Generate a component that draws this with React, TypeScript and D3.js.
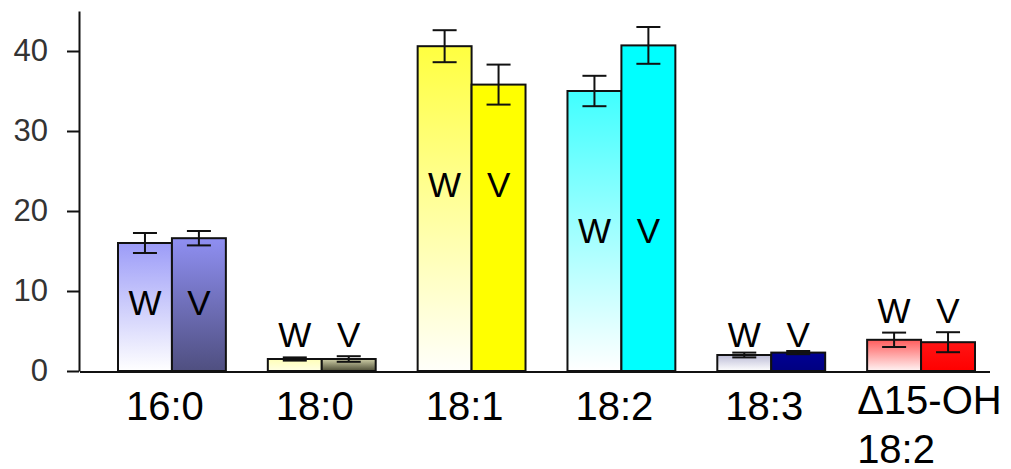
import React, { useRef, useEffect } from 'react';
import * as d3 from 'd3';

const categories = ['16:0', '18:0', '18:1', '18:2', '18:3', 'Δ15-OH\n18:2'];
const series = ['W', 'V'];
const wValues = [16.0, 1.5, 40.6, 35.0, 2.0, 3.9];
const wErrors = [1.25, 0.2, 2.0, 1.9, 0.3, 0.9];
const vValues = [16.6, 1.5, 35.8, 40.7, 2.3, 3.6];
const vErrors = [0.9, 0.35, 2.5, 2.3, 0.2, 1.25];
// where the W / V letters sit (value units, letter baseline)
const letterValues = [7.0, 3.0, 21.7, 16.0, 3.0, 6.0];
const yTicks = [0, 10, 20, 30, 40];

const wColors = [
  ['#9c9cf8', '#ffffff'],
  ['#ffffb8', '#ffffe4'],
  ['#ffff40', '#fffffa'],
  ['#40ffff', '#ffffff'],
  ['#bcbcd6', '#ffffff'],
  ['#ff5c5c', '#fff4f4'],
];
const vColors = [
  ['#8f8ff2', '#4f4f80'],
  ['#d0d0a8', '#4c4c36'],
  ['#ffff00', '#ffff00'],
  ['#00ffff', '#00ffff'],
  ['#000094', '#000080'],
  ['#ff1414', '#ff0000'],
];

function App() {
  const width = 1011;
  const height = 469;
  const axisRef = useRef<SVGGElement>(null);

  const x0 = d3.scaleBand().domain(categories).range([118, 975]).paddingInner(0.28).paddingOuter(0);
  const x1 = d3.scaleBand().domain(series).range([0, x0.bandwidth()]).padding(0);
  const y = d3.scaleLinear().domain([0, 45]).range([371, 11]);

  useEffect(() => {
    const g = d3.select(axisRef.current);
    g.selectAll('*').remove();
    g.call(d3.axisLeft(y).tickValues(yTicks).tickSize(12).tickSizeOuter(0).tickPadding(19));
    g.select('.domain').attr('stroke', '#111').attr('stroke-width', 2);
    g.selectAll('.tick line').attr('stroke', '#111').attr('stroke-width', 2);
    g.selectAll('.tick text')
      .attr('font-family', 'Liberation Sans, Arial, sans-serif')
      .attr('font-size', 31)
      .attr('fill', '#333');
  });

  const bars = categories.flatMap((c, i) => [
    { c, i, key: 'W', v: wValues[i], e: wErrors[i], col: wColors[i] },
    { c, i, key: 'V', v: vValues[i], e: vErrors[i], col: vColors[i] },
  ]);

  return (
    <svg width={width} height={height} style={{ position: 'fixed', left: 0, top: 0, background: '#fff' }}>
      <defs>
        {bars.map(b => (
          <linearGradient key={b.key + b.i} id={`g${b.key}${b.i}`} x1="0" y1="0" x2="0" y2="1">
            <stop offset="0" stopColor={b.col[0]} />
            <stop offset="1" stopColor={b.col[1]} />
          </linearGradient>
        ))}
      </defs>

      <g ref={axisRef} transform="translate(79,0)" />
      <line x1={80} x2={990} y1={y(0) + 1} y2={y(0) + 1} stroke="#111" strokeWidth={2} />

      {bars.map(b => {
        const bx = (x0(b.c) as number) + (x1(b.key) as number);
        const bw = x1.bandwidth();
        const cx = bx + bw / 2;
        return (
          <g key={'b' + b.key + b.i}>
            <rect x={bx} y={y(b.v)} width={bw} height={y(0) - y(b.v)}
              fill={`url(#g${b.key}${b.i})`} stroke="#111" strokeWidth={2} />
            <g stroke="#111" strokeWidth={2}>
              <line x1={cx} x2={cx} y1={y(b.v + b.e)} y2={y(b.v - b.e)} />
              <line x1={cx - 12} x2={cx + 12} y1={y(b.v + b.e)} y2={y(b.v + b.e)} />
              <line x1={cx - 12} x2={cx + 12} y1={y(b.v - b.e)} y2={y(b.v - b.e)} />
            </g>
            <text x={cx} y={y(letterValues[b.i])} textAnchor="middle"
              fontFamily="Liberation Sans, Arial, sans-serif" fontSize={35} fill="#000">
              {b.key}
            </text>
          </g>
        );
      })}

      {categories.map(c => {
        const lines = c.split('\n');
        const center = (x0(c) as number) + x0.bandwidth() / 2;
        const multi = lines.length > 1;
        const lx = multi ? (x0(c) as number) - 10 : center - 7;
        return (
          <text key={'l' + c} x={lx} y={multi ? 414 : 420}
            textAnchor={multi ? 'start' : 'middle'}
            fontFamily="Liberation Sans, Arial, sans-serif" fontSize={40} fill="#000">
            {lines.map((t, k) => (
              <tspan key={k} x={lx} dy={k === 0 ? 0 : 49}>{t}</tspan>
            ))}
          </text>
        );
      })}
    </svg>
  );
}

export default App;
